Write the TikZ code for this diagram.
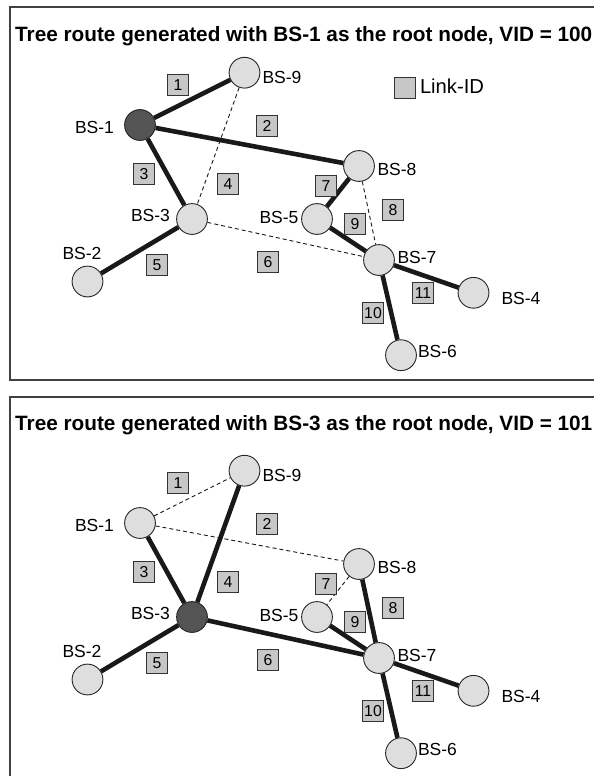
\documentclass[tikz,border=0pt]{standalone}
\usepackage{fontspec}
\setmainfont{Liberation Sans}

\begin{document}
\begin{tikzpicture}[x=1pt, y=-1pt,
  bs/.style={circle, draw=black!85, line width=0.9pt, fill=black!13, minimum size=30.8pt, inner sep=0pt},
  rootbs/.style={bs, fill=black!67},
  linkbox/.style={draw=black!80, line width=0.8pt, fill=black!22, minimum width=21pt, minimum height=20.5pt, inner sep=0pt, font=\fontsize{15.8}{16}\selectfont},
  bslabel/.style={inner sep=0pt, font=\fontsize{17.5}{19}\selectfont},
  paneltitle/.style={inner sep=0pt, anchor=base west, font=\fontsize{20.75}{24}\selectfont\bfseries},
  treelink/.style={line width=4.6pt, black!90},
  sparelink/.style={line width=0.9pt, dash pattern=on 4pt off 3pt, black!90},
  frame/.style={line width=1.4pt, black!75}]
\useasboundingbox (0,0) rectangle (594,776);

% Frames
\draw[frame] (594,7) -- (10,7) -- (10,380) -- (594,380);
\draw[frame] (594,397) -- (10,397) -- (10,777);

% Titles
\node[paneltitle] (ttitle) at (15,41.7) {Tree route generated with BS-1 as the root node, VID = 100};
\node[paneltitle] (btitle) at (15,430.7) {Tree route generated with BS-3 as the root node, VID = 101};

% Legend
\node[linkbox] (legbox) at (405,88) {};
\node[inner sep=0pt, font=\fontsize{20.2}{22}\selectfont] (legtext) at (452,86) {Link-ID};

% Nodes, root BS-1
\node[rootbs] (t1) at (140,125) {};
\node[bs] (t9) at (244.5,72.7) {};
\node[bs] (t8) at (359,166) {};
\node[bs] (t3) at (192,219) {};
\node[bs] (t5) at (317,219) {};
\node[bs] (t7) at (379,260) {};
\node[bs] (t2) at (87.5,281.5) {};
\node[bs] (t4) at (473.5,292.8) {};
\node[bs] (t6) at (401,355.2) {};

% Labels, root BS-1
\node[bslabel] (t1l) at (94.5,127) {BS-1};
\node[bslabel] (t9l) at (282,77) {BS-9};
\node[bslabel] (t8l) at (397,169) {BS-8};
\node[bslabel] (t3l) at (150.5,215) {BS-3};
\node[bslabel] (t5l) at (279,217.5) {BS-5};
\node[bslabel] (t7l) at (417,257) {BS-7};
\node[bslabel] (t2l) at (82,253) {BS-2};
\node[bslabel] (t4l) at (521,298) {BS-4};
\node[bslabel] (t6l) at (437.5,351) {BS-6};

% Links, root BS-1
\draw[treelink] (t1) -- (t9);   % 1
\draw[treelink] (t1) -- (t8);   % 2
\draw[treelink] (t1) -- (t3);   % 3
\draw[sparelink] (t9) -- (t3);  % 4
\draw[treelink] (t3) -- (t2);   % 5
\draw[sparelink] (t3) -- (t7);  % 6
\draw[treelink] (t8) -- (t5);   % 7
\draw[sparelink] (t8) -- (t7);  % 8
\draw[treelink] (t5) -- (t7);   % 9
\draw[treelink] (t7) -- (t6);   % 10
\draw[treelink] (t7) -- (t4);   % 11

% Link-IDs, root BS-1
\node[linkbox] (tid1) at (178,85) {1};
\node[linkbox] (tid2) at (267,126) {2};
\node[linkbox] (tid3) at (144,174) {3};
\node[linkbox] (tid4) at (228,184) {4};
\node[linkbox] (tid5) at (157,265) {5};
\node[linkbox] (tid6) at (268,262) {6};
\node[linkbox] (tid7) at (326,186) {7};
\node[linkbox] (tid8) at (393,210) {8};
\node[linkbox] (tid9) at (355,224) {9};
\node[linkbox] (tid10) at (373,313) {10};
\node[linkbox] (tid11) at (423,293) {11};

% Nodes, root BS-3
\node[bs] (b1) at (140,523) {};
\node[bs] (b9) at (244.5,470.7) {};
\node[bs] (b8) at (359,564) {};
\node[rootbs] (b3) at (192,617) {};
\node[bs] (b5) at (317,617) {};
\node[bs] (b7) at (379,658) {};
\node[bs] (b2) at (87.5,679.5) {};
\node[bs] (b4) at (473.5,690.8) {};
\node[bs] (b6) at (401,753.2) {};

% Labels, root BS-3
\node[bslabel] (b1l) at (94.5,525) {BS-1};
\node[bslabel] (b9l) at (282,475) {BS-9};
\node[bslabel] (b8l) at (397,567) {BS-8};
\node[bslabel] (b3l) at (150.5,613) {BS-3};
\node[bslabel] (b5l) at (279,615.5) {BS-5};
\node[bslabel] (b7l) at (417,655) {BS-7};
\node[bslabel] (b2l) at (82,651) {BS-2};
\node[bslabel] (b4l) at (521,696) {BS-4};
\node[bslabel] (b6l) at (437.5,749) {BS-6};

% Links, root BS-3
\draw[sparelink] (b1) -- (b9);  % 1
\draw[sparelink] (b1) -- (b8);  % 2
\draw[treelink] (b1) -- (b3);   % 3
\draw[treelink] (b9) -- (b3);   % 4
\draw[treelink] (b3) -- (b2);   % 5
\draw[treelink] (b3) -- (b7);   % 6
\draw[sparelink] (b8) -- (b5);  % 7
\draw[treelink] (b8) -- (b7);   % 8
\draw[treelink] (b5) -- (b7);   % 9
\draw[treelink] (b7) -- (b6);   % 10
\draw[treelink] (b7) -- (b4);   % 11

% Link-IDs, root BS-3
\node[linkbox] (bid1) at (178,483) {1};
\node[linkbox] (bid2) at (267,524) {2};
\node[linkbox] (bid3) at (144,572) {3};
\node[linkbox] (bid4) at (228,582) {4};
\node[linkbox] (bid5) at (157,663) {5};
\node[linkbox] (bid6) at (268,660) {6};
\node[linkbox] (bid7) at (326,584) {7};
\node[linkbox] (bid8) at (393,608) {8};
\node[linkbox] (bid9) at (355,622) {9};
\node[linkbox] (bid10) at (373,711) {10};
\node[linkbox] (bid11) at (423,691) {11};

\end{tikzpicture}
\end{document}
